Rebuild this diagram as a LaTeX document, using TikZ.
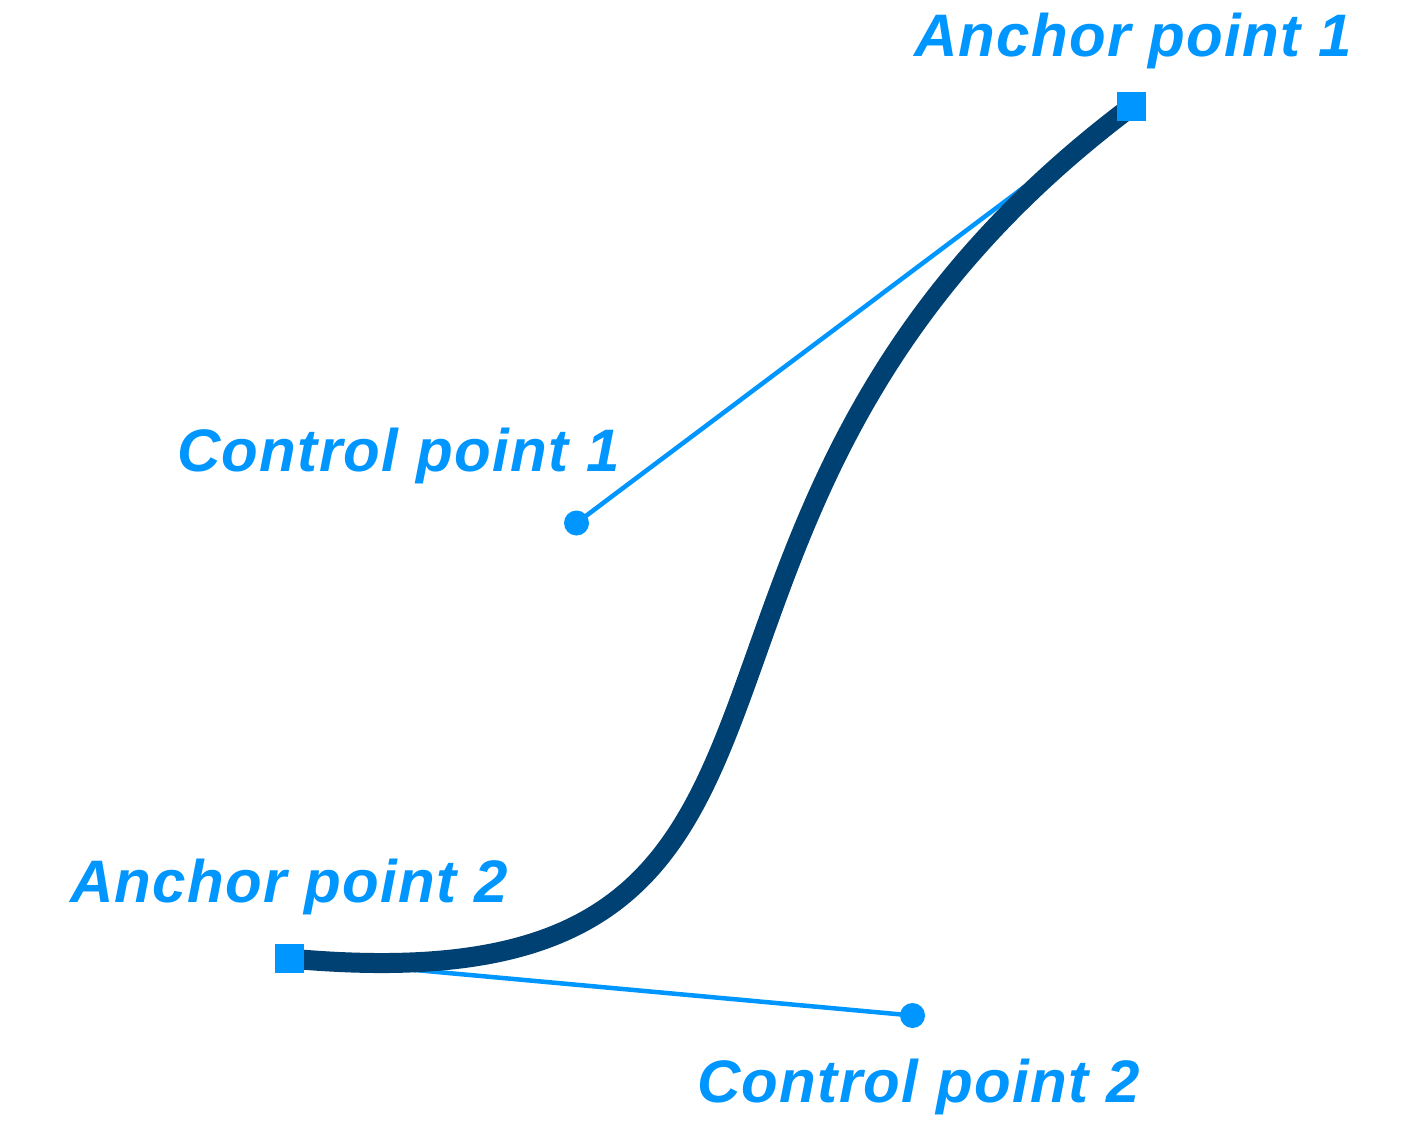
\documentclass[tikz,border=0pt]{standalone}
\usepackage{fontspec}
\setmainfont{Liberation Sans}
\newfontfamily\lblfont[LetterSpace=2.2]{Liberation Sans}
\definecolor{handleblue}{RGB}{0,150,255}
\definecolor{curvenavy}{RGB}{0,65,115}

\begin{document}
\begin{tikzpicture}[
  x=1pt,y=-1pt,
  anchorpt/.style={fill=handleblue,minimum size=29pt,inner sep=0pt},
  ctrlpt/.style={circle,fill=handleblue,minimum size=25pt,inner sep=0pt},
  handle/.style={draw=handleblue,line width=4.5pt},
  curveline/.style={draw=curvenavy,line width=20pt},
  lbl/.style={font=\lblfont\fontsize{60}{72}\selectfont\bfseries\itshape,text=handleblue,inner sep=0pt,anchor=base west}
]
\fill[white] (0,0) rectangle (1417,1122);
\useasboundingbox (0,0) rectangle (1417,1122);
% ---------------- points ----------------
\coordinate (a1) at (1131.5,106.5);
\coordinate (a2) at (289.5,958.5);
\coordinate (c1) at (576.5,523);
\coordinate (c2) at (912.5,1015.5);
% ---------------- handles and curve ----------------
\draw[handle] (a1) -- (c1);
\draw[handle] (a2) -- (c2);
\draw[curveline] (a1) .. controls (c1) and (c2) .. (a2);
% ---------------- markers ----------------
\node[anchorpt] (sq1) at (a1) {};
\node[anchorpt] (sq2) at (a2) {};
\node[ctrlpt] (dot1) at (c1) {};
\node[ctrlpt] (dot2) at (c2) {};
% ---------------- labels ----------------
\node[lbl] (lblA1) at (914,56) {Anchor point 1};
\node[lbl] (lblC1) at (177,471) {Control point 1};
\node[lbl] (lblA2) at (70,902) {Anchor point 2};
\node[lbl] (lblC2) at (697,1102) {Control point 2};
\end{tikzpicture}
\end{document}
